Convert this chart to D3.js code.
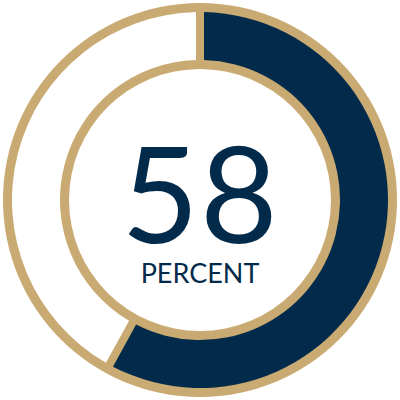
<!DOCTYPE html>
<html>
<head>
<meta charset="utf-8">
<script src="https://cdn.jsdelivr.net/npm/d3@7"></script>
<style>
  html, body { margin: 0; padding: 0; background: #fff; }
  svg { display: block; }
</style>
</head>
<body>
<div id="chart"></div>
<script>
// data
var categories = ["percent", "rest"];
var values = [58, 42];
var label = "PERCENT";

var width = 400, height = 400;
var gold = "#c9aa72", navy = "#022b4b";

var svg = d3.select("#chart").append("svg")
    .attr("width", width)
    .attr("height", height)
    .append("g")
    .attr("transform", "translate(200,200)");

// gold backing disk
svg.append("circle")
    .attr("r", 197)
    .attr("fill", gold);

var pie = d3.pie()
    .sort(null)
    .value(function(d) { return d; });

var arc = d3.arc()
    .innerRadius(140)
    .outerRadius(188)
    .padRadius(165)
    .padAngle(8 / 165);

var colors = d3.scaleOrdinal()
    .domain(categories)
    .range([navy, "#ffffff"]);

svg.selectAll("path")
    .data(pie(values))
    .enter().append("path")
    .attr("d", arc)
    .attr("fill", function(d, i) { return colors(categories[i]); });

// inner white disk
svg.append("circle")
    .attr("r", 131)
    .attr("fill", "#fff");

svg.append("text")
    .attr("x", 0)
    .attr("y", 43)
    .attr("text-anchor", "middle")
    .attr("font-family", "Lato, 'Open Sans', sans-serif")
    .attr("font-weight", 400)
    .attr("font-size", 134)
    .attr("letter-spacing", 1)
    .attr("fill", navy)
    .text(values[0]);

svg.append("text")
    .attr("x", 0)
    .attr("y", 83)
    .attr("text-anchor", "middle")
    .attr("font-family", "Lato, 'Open Sans', sans-serif")
    .attr("font-weight", 400)
    .attr("font-size", 27)
    .attr("fill", navy)
    .text(label);
</script>
</body>
</html>
